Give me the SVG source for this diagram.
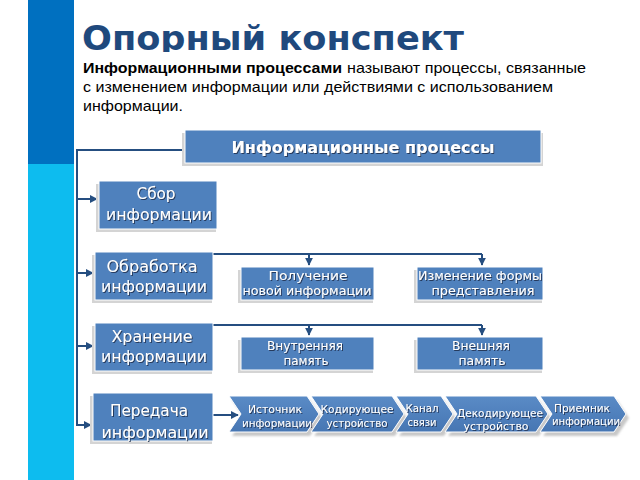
<svg xmlns="http://www.w3.org/2000/svg" width="640" height="480" viewBox="0 0 640 480">
<defs>
<style>
.box{fill:#4f81bd;stroke:#ffffff;stroke-width:1}
.shd{fill:#d4d4d4}
.ln{fill:none;stroke:#254e80;stroke-width:2}
.bt{font-family:"DejaVu Sans","Liberation Sans",sans-serif;font-size:16px;fill:#ffffff;text-anchor:middle;filter:url(#ts)}
.st{font-family:"DejaVu Sans","Liberation Sans",sans-serif;font-size:12.5px;fill:#ffffff;text-anchor:middle;filter:url(#ts)}
.ct{font-family:"DejaVu Sans","Liberation Sans",sans-serif;font-size:11px;fill:#ffffff;text-anchor:middle;filter:url(#ts)}
.body{font-family:"Liberation Sans Narrow","Liberation Sans",Arial,sans-serif;font-size:15px;fill:#000000}
.chev{fill:url(#cg);stroke:#ffffff;stroke-width:1}
.cshd{fill:#c8c8c8;filter:url(#bl)}
</style>
<filter id="ts" x="-10%" y="-30%" width="120%" height="160%">
<feDropShadow dx="1" dy="1" stdDeviation="0.5" flood-color="#1a2f4d" flood-opacity="0.85"/>
</filter>
<filter id="bl" x="-10%" y="-20%" width="120%" height="140%">
<feGaussianBlur stdDeviation="1.2"/>
</filter>
<linearGradient id="cg" x1="0" y1="0" x2="0" y2="1">
<stop offset="0" stop-color="#5a8bc6"/>
<stop offset="1" stop-color="#4676b3"/>
</linearGradient>
<marker id="ah" viewBox="0 0 10 10" refX="9" refY="5" markerWidth="4" markerHeight="4" orient="auto-start-reverse" markerUnits="strokeWidth">
<path d="M0,0 L10,5 L0,10 Z" fill="#254e80"/>
</marker>
<clipPath id="tclip"><rect x="0" y="0" width="640" height="52"/></clipPath>
</defs>

<rect width="640" height="480" fill="#ffffff"/>

<g id="sidebar">
<rect x="28" y="0" width="46" height="164" fill="#0070c0"/>
<rect x="28" y="164" width="46" height="316" fill="#0dbcef"/>
</g>

<g id="title" clip-path="url(#tclip)">
<text x="82" y="50" font-family="'DejaVu Sans','Liberation Sans',sans-serif" font-weight="bold" font-size="34" fill="#1f497d" textLength="382" lengthAdjust="spacingAndGlyphs">Опорный конспект</text>
</g>

<g id="definition">
<text class="body" x="83" y="73" font-weight="bold" textLength="259" lengthAdjust="spacingAndGlyphs">Информационными процессами</text>
<text class="body" x="347" y="73" textLength="239" lengthAdjust="spacingAndGlyphs">называют процессы, связанные</text>
<text class="body" x="83" y="92" textLength="470" lengthAdjust="spacingAndGlyphs">с изменением информации или действиями с использованием</text>
<text class="body" x="83" y="111" textLength="100" lengthAdjust="spacingAndGlyphs">информации.</text>
</g>

<g id="connectors">
<path class="ln" d="M185,150 H77 V425 H91" marker-end="url(#ah)"/>
<path class="ln" d="M77,199 H97" marker-end="url(#ah)"/>
<path class="ln" d="M77,273 H93" marker-end="url(#ah)"/>
<path class="ln" d="M77,346 H93" marker-end="url(#ah)"/>
<path class="ln" d="M213,254 H482"/>
<path class="ln" d="M309,254 V265" marker-end="url(#ah)"/>
<path class="ln" d="M482,254 V265" marker-end="url(#ah)"/>
<path class="ln" d="M213,325 H482"/>
<path class="ln" d="M309,325 V335" marker-end="url(#ah)"/>
<path class="ln" d="M482,325 V335" marker-end="url(#ah)"/>
<path class="ln" d="M213,415 H238" marker-end="url(#ah)"/>
</g>

<g id="n-info-processes">
<rect class="shd" x="182" y="133" width="361" height="33"/>
<rect class="box" x="185" y="130" width="356" height="33"/>
<text x="363" y="153" font-family="'DejaVu Sans','Liberation Sans',sans-serif" font-weight="bold" font-size="15" fill="#ffffff" text-anchor="middle" filter="url(#ts)" textLength="263" lengthAdjust="spacingAndGlyphs">Информационные процессы</text>
</g>

<g id="n-sbor">
<rect class="shd" x="96" y="184" width="120" height="48"/>
<rect class="box" x="99" y="181" width="118" height="48"/>
<text class="bt" x="156" y="199" textLength="39" lengthAdjust="spacingAndGlyphs">Сбор</text>
<text class="bt" x="159" y="220" textLength="106" lengthAdjust="spacingAndGlyphs">информации</text>
</g>

<g id="n-obrabotka">
<rect class="shd" x="92" y="255" width="120" height="48"/>
<rect class="box" x="95" y="252" width="118" height="48"/>
<text class="bt" x="152" y="272" textLength="91" lengthAdjust="spacingAndGlyphs">Обработка</text>
<text class="bt" x="154" y="292" textLength="106" lengthAdjust="spacingAndGlyphs">информации</text>
</g>

<g id="n-poluchenie">
<rect class="shd" x="238" y="270" width="135" height="33"/>
<rect class="box" x="241" y="267" width="133" height="33"/>
<text class="st" x="308" y="280" textLength="79" lengthAdjust="spacingAndGlyphs">Получение</text>
<text class="st" x="307" y="295" textLength="129" lengthAdjust="spacingAndGlyphs">новой информации</text>
</g>

<g id="n-izmenenie">
<rect class="shd" x="414" y="270" width="128" height="33"/>
<rect class="box" x="417" y="267" width="126" height="33"/>
<text class="st" x="480" y="280" textLength="124" lengthAdjust="spacingAndGlyphs">Изменение формы</text>
<text class="st" x="483" y="295" textLength="103" lengthAdjust="spacingAndGlyphs">представления</text>
</g>

<g id="n-hranenie">
<rect class="shd" x="92" y="326" width="120" height="48"/>
<rect class="box" x="95" y="323" width="118" height="48"/>
<text class="bt" x="152" y="342" textLength="81" lengthAdjust="spacingAndGlyphs">Хранение</text>
<text class="bt" x="154" y="362" textLength="106" lengthAdjust="spacingAndGlyphs">информации</text>
</g>

<g id="n-vnutr">
<rect class="shd" x="238" y="340" width="135" height="33"/>
<rect class="box" x="241" y="337" width="133" height="33"/>
<text class="st" x="305" y="350" textLength="76" lengthAdjust="spacingAndGlyphs">Внутренняя</text>
<text class="st" x="306" y="365" textLength="45" lengthAdjust="spacingAndGlyphs">память</text>
</g>

<g id="n-vnesh">
<rect class="shd" x="414" y="340" width="128" height="33"/>
<rect class="box" x="417" y="337" width="126" height="33"/>
<text class="st" x="481" y="350" textLength="58" lengthAdjust="spacingAndGlyphs">Внешняя</text>
<text class="st" x="482" y="365" textLength="47" lengthAdjust="spacingAndGlyphs">память</text>
</g>

<g id="n-peredacha">
<rect class="shd" x="90" y="396" width="122" height="48"/>
<rect class="box" x="93" y="393" width="120" height="48"/>
<text class="bt" x="149" y="416" textLength="78" lengthAdjust="spacingAndGlyphs">Передача</text>
<text class="bt" x="155" y="438" textLength="107" lengthAdjust="spacingAndGlyphs">информации</text>
</g>

<g id="n-istochnik">
<path class="cshd" d="M232,400 H310 L322,418 L310,436 H232 L244,418 Z"/>
<path class="chev" d="M229,396 H307 L319,414 L307,432 H229 L241,414 Z"/>
<text class="ct" x="275" y="413" textLength="54" lengthAdjust="spacingAndGlyphs">Источник</text>
<text class="ct" x="277" y="427" textLength="70" lengthAdjust="spacingAndGlyphs">информации</text>
</g>

<g id="n-kodir">
<path class="cshd" d="M314,400 H395 L407,418 L395,436 H314 L326,418 Z"/>
<path class="chev" d="M311,396 H392 L404,414 L392,432 H311 L323,414 Z"/>
<text class="ct" x="357" y="413" textLength="73" lengthAdjust="spacingAndGlyphs">Кодирующее</text>
<text class="ct" x="357" y="427" textLength="61" lengthAdjust="spacingAndGlyphs">устройство</text>
</g>

<g id="n-kanal">
<path class="cshd" d="M399,400 H444 L456,418 L444,436 H399 L411,418 Z"/>
<path class="chev" d="M396,396 H441 L453,414 L441,432 H396 L408,414 Z"/>
<text class="ct" x="422" y="412" textLength="33" lengthAdjust="spacingAndGlyphs">Канал</text>
<text class="ct" x="422" y="426" textLength="29" lengthAdjust="spacingAndGlyphs">связи</text>
</g>

<g id="n-dekodir">
<path class="cshd" d="M448,400 H539 L551,418 L539,436 H448 L460,418 Z"/>
<path class="chev" d="M445,396 H536 L548,414 L536,432 H445 L457,414 Z"/>
<text class="ct" x="500" y="417" textLength="86" lengthAdjust="spacingAndGlyphs">Декодирующее</text>
<text class="ct" x="496" y="430" textLength="65" lengthAdjust="spacingAndGlyphs">устройство</text>
</g>

<g id="n-priemnik">
<path class="cshd" d="M543,400 H617 L629,418 L617,436 H543 L555,418 Z"/>
<path class="chev" d="M540,396 H614 L626,414 L614,432 H540 L552,414 Z"/>
<text class="ct" x="582" y="412" textLength="56" lengthAdjust="spacingAndGlyphs">Приемник</text>
<text class="ct" x="586" y="425" textLength="68" lengthAdjust="spacingAndGlyphs">информации</text>
</g>
</svg>
